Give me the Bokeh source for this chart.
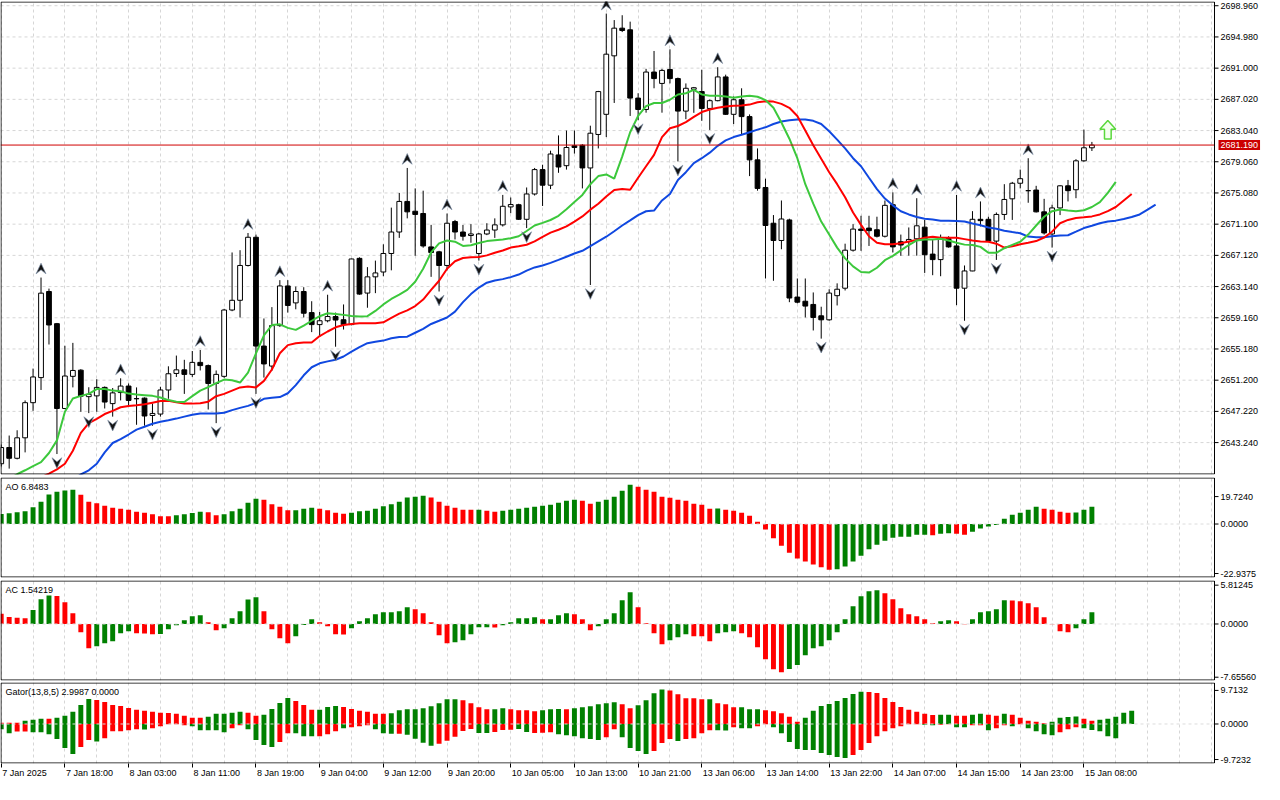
import numpy as np
from bokeh.plotting import figure
from bokeh.layouts import column
from bokeh.models import (Range1d, FixedTicker, Label, Grid, LinearAxis,
                          CustomJSTickFormatter)
from bokeh.embed import file_html
from bokeh.resources import INLINE

# ---------------- data (XAUUSD H1) ----------------
opens = [2640.54, 2642.61, 2641.24, 2643.85, 2648.33, 2651.53, 2662.51, 2658.41, 2647.59, 2651.69,
         2652.48, 2649.1, 2649.2, 2650.28, 2648.21, 2649.62, 2650.45, 2648.83, 2648.91, 2646.7,
         2646.88, 2649.95, 2652.06, 2652.52, 2651.94, 2653.47, 2653.06, 2650.78, 2651.69, 2660.15,
         2661.39, 2665.83, 2669.43, 2655.55, 2653.0, 2658.16, 2663.22, 2661.06, 2662.51, 2659.82,
         2658.29, 2658.78, 2659.32, 2658.91, 2658.29, 2666.74, 2662.31, 2664.38, 2665.0, 2667.36,
         2670.1, 2674.0, 2672.75, 2672.46, 2668.2, 2667.57, 2665.83, 2671.43, 2670.1, 2669.65,
         2667.36, 2669.85, 2670.35, 2671.01, 2673.3, 2673.58, 2671.72, 2674.95, 2678.06, 2676.07,
         2679.93, 2678.56, 2681.1, 2681.17, 2678.27, 2682.54, 2685.11, 2692.57, 2696.1, 2695.89,
         2687.18, 2685.73, 2690.5, 2689.05, 2690.83, 2689.67, 2685.52, 2688.3, 2688.01, 2685.86,
         2686.85, 2689.88, 2685.11, 2686.97, 2684.82, 2679.3, 2675.78, 2671.22, 2669.02, 2671.64,
         2661.8, 2661.27, 2660.86, 2659.41, 2658.9, 2661.98, 2662.93, 2667.78, 2670.47, 2670.6,
         2670.39, 2669.56, 2673.58, 2668.86, 2668.86, 2669.23, 2670.72, 2667.28, 2666.58, 2669.27,
         2668.32, 2662.93, 2665.13, 2671.72, 2671.72, 2668.94, 2672.34, 2674.33, 2676.32, 2675.37,
         2675.45, 2672.67, 2669.85, 2673.17, 2675.99, 2675.49, 2679.18, 2680.84]
highs = [2643.0, 2644.14, 2644.81, 2648.62, 2652.68, 2664.29, 2662.88, 2658.5, 2655.59, 2655.96,
         2652.6, 2650.3, 2651.32, 2650.4, 2650.2, 2651.44, 2650.78, 2650.28, 2649.0, 2648.21,
         2650.36, 2652.97, 2654.34, 2653.8, 2654.92, 2655.05, 2653.2, 2652.44, 2660.3, 2667.49,
         2667.78, 2669.97, 2669.77, 2659.07, 2660.52, 2663.96, 2663.96, 2663.14, 2663.06, 2661.27,
         2659.9, 2662.1, 2659.82, 2660.86, 2666.7, 2666.87, 2665.62, 2666.45, 2668.53, 2673.21,
         2675.08, 2678.27, 2675.66, 2675.37, 2671.01, 2667.7, 2672.46, 2671.64, 2671.0, 2671.1,
         2669.98, 2671.22, 2671.84, 2674.83, 2674.5, 2673.7, 2675.78, 2678.27, 2678.68, 2680.47,
         2682.42, 2683.04, 2683.04, 2681.3, 2683.66, 2688.1, 2697.96, 2697.13, 2697.75, 2696.93,
         2687.8, 2690.91, 2693.19, 2690.91, 2693.4, 2689.8, 2689.05, 2688.6, 2690.79, 2687.0,
         2691.12, 2690.17, 2687.39, 2688.43, 2685.1, 2680.76, 2676.9, 2672.26, 2674.12, 2671.8,
         2664.17, 2664.17, 2662.39, 2660.57, 2662.8, 2663.55, 2668.61, 2671.1, 2672.17, 2672.17,
         2672.05, 2674.12, 2675.16, 2669.77, 2670.68, 2674.41, 2671.64, 2669.15, 2669.77, 2669.56,
         2674.83, 2665.83, 2672.76, 2674.0, 2672.05, 2672.59, 2676.2, 2676.49, 2678.06, 2679.51,
         2675.99, 2674.33, 2673.58, 2676.07, 2676.74, 2679.39, 2683.16, 2681.59]
lows = [2640.2, 2639.92, 2641.1, 2641.99, 2647.29, 2649.95, 2655.75, 2641.78, 2647.5, 2650.28,
        2647.17, 2647.0, 2647.17, 2647.59, 2646.55, 2648.62, 2647.99, 2645.51, 2645.39, 2645.39,
        2646.55, 2648.83, 2651.61, 2649.45, 2651.61, 2652.44, 2647.46, 2645.72, 2651.5, 2660.0,
        2659.19, 2665.7, 2649.45, 2651.53, 2652.4, 2658.0, 2659.82, 2660.24, 2659.2, 2657.33,
        2656.71, 2658.58, 2655.47, 2657.66, 2658.2, 2662.1, 2660.44, 2662.3, 2664.46, 2665.21,
        2669.35, 2671.84, 2667.07, 2668.1, 2664.38, 2662.51, 2665.21, 2669.15, 2669.0, 2668.73,
        2666.45, 2669.7, 2669.35, 2670.8, 2672.5, 2671.64, 2670.6, 2674.75, 2673.42, 2675.57,
        2677.65, 2678.06, 2680.1, 2675.66, 2663.34, 2680.76, 2682.21, 2686.56, 2695.6, 2684.9,
        2684.36, 2685.32, 2688.43, 2685.32, 2689.05, 2679.1, 2684.49, 2685.3, 2684.28, 2683.12,
        2686.77, 2685.03, 2683.87, 2682.54, 2677.23, 2675.37, 2664.17, 2663.88, 2667.9, 2661.15,
        2661.0, 2659.2, 2657.54, 2656.5, 2658.78, 2660.73, 2662.64, 2667.6, 2667.7, 2668.32,
        2669.4, 2669.4, 2667.49, 2667.07, 2667.08, 2667.08, 2664.88, 2664.59, 2664.46, 2668.1,
        2660.77, 2658.78, 2665.1, 2670.81, 2668.82, 2666.54, 2671.64, 2671.64, 2675.66, 2673.83,
        2672.59, 2669.77, 2668.11, 2672.26, 2674.0, 2674.41, 2679.06, 2680.43]
closes = [2642.61, 2641.24, 2643.85, 2648.33, 2651.61, 2662.30, 2658.24, 2647.59, 2651.73, 2652.44,
          2649.16, 2649.4, 2650.28, 2648.41, 2649.58, 2650.45, 2648.62, 2648.85, 2646.63, 2646.96,
          2649.95, 2652.02, 2652.52, 2651.94, 2653.47, 2653.06, 2650.78, 2651.94, 2660.15, 2661.39,
          2665.83, 2669.43, 2655.55, 2653.27, 2658.16, 2663.22, 2660.73, 2662.51, 2659.74, 2658.29,
          2658.78, 2659.32, 2658.87, 2658.29, 2666.66, 2662.18, 2664.38, 2664.88, 2667.36, 2670.1,
          2674.0, 2672.67, 2672.34, 2668.32, 2667.49, 2665.83, 2671.22, 2670.1, 2669.56, 2669.85,
          2669.85, 2670.35, 2671.01, 2673.38, 2673.6, 2671.72, 2674.95, 2678.06, 2676.07, 2680.05,
          2678.39, 2680.88, 2680.88, 2678.27, 2682.7, 2688.01, 2692.78, 2696.1, 2695.8, 2687.18,
          2685.73, 2690.5, 2689.67, 2690.71, 2689.67, 2685.52, 2688.43, 2688.5, 2685.86, 2686.85,
          2689.88, 2685.11, 2686.97, 2684.82, 2679.3, 2675.66, 2670.93, 2669.02, 2671.76, 2661.68,
          2661.15, 2660.65, 2659.2, 2658.9, 2662.31, 2662.8, 2667.78, 2670.47, 2670.3, 2670.27,
          2669.56, 2673.5, 2668.2, 2668.44, 2669.15, 2670.89, 2667.2, 2666.58, 2669.27, 2668.2,
          2662.93, 2665.13, 2671.72, 2671.55, 2668.94, 2672.34, 2674.25, 2676.32, 2676.9, 2675.37,
          2672.67, 2669.98, 2673.17, 2675.99, 2675.37, 2679.18, 2680.84, 2681.19]

# Alligator lines (as drawn, i.e. already shifted forward)
jaw = [2633.5, 2634.0, 2634.5, 2635.0, 2635.5, 2636.0, 2636.6, 2637.2, 2637.8, 2638.5,
       2639.17, 2639.71, 2640.54, 2641.99, 2643.19, 2643.69, 2644.27, 2644.89, 2645.26, 2645.64,
       2645.89, 2646.09, 2646.3, 2646.55, 2646.8, 2646.96, 2646.96, 2646.96, 2647.05, 2647.38,
       2647.67, 2647.92, 2648.29, 2648.83, 2648.95, 2649.04, 2649.53, 2650.57, 2651.82, 2652.85,
       2653.35, 2653.6, 2653.81, 2654.22, 2654.84, 2655.42, 2655.92, 2656.09, 2656.25, 2656.54,
       2656.71, 2656.75, 2657.25, 2657.75, 2658.37, 2658.78, 2659.2, 2659.94, 2661.15, 2662.18,
       2663.01, 2663.63, 2663.92, 2664.09, 2664.34, 2664.67, 2665.17, 2665.58, 2665.83, 2666.16,
       2666.54, 2666.95, 2667.36, 2667.7, 2668.3, 2668.9, 2669.5, 2670.2, 2670.93, 2671.59,
       2672.26, 2672.75, 2672.84, 2674.12, 2674.95, 2676.73, 2677.73, 2678.89, 2679.51, 2680.22,
       2681.09, 2681.79, 2682.21, 2682.5, 2682.83, 2683.16, 2683.45, 2683.87, 2684.2, 2684.36,
       2684.45, 2684.45, 2684.28, 2683.87, 2682.95, 2681.88, 2680.76, 2679.51, 2678.48, 2677.02,
       2675.57, 2674.37, 2673.5, 2672.75, 2672.34, 2672.01, 2671.8, 2671.68, 2671.55, 2671.55,
       2671.51, 2671.43, 2671.18, 2670.97, 2670.68, 2670.52, 2670.27, 2670.1, 2669.94, 2669.52,
       2669.44, 2669.44, 2669.56, 2669.65, 2669.69, 2670.14, 2670.6, 2670.89, 2671.22, 2671.43,
       2671.55, 2671.76, 2672.01, 2672.34, 2672.96, 2673.59]
teeth = [2636.5, 2637.0, 2637.5, 2638.0, 2638.4, 2638.8, 2639.29, 2639.83, 2640.54, 2642.2,
         2644.48, 2645.72, 2646.26, 2646.88, 2647.29, 2647.75, 2647.92, 2648.0, 2648.12, 2648.33,
         2648.54, 2648.58, 2648.37, 2648.21, 2648.21, 2648.25, 2648.46, 2649.16, 2649.45, 2649.87,
         2650.28, 2650.4, 2650.28, 2651.11, 2652.56, 2654.63, 2655.67, 2655.9, 2656.0, 2656.0,
         2656.83, 2657.41, 2657.95, 2658.24, 2658.37, 2658.45, 2658.45, 2658.45, 2658.58, 2659.16,
         2659.69, 2660.11, 2660.65, 2661.48, 2662.72, 2663.88, 2665.42, 2666.37, 2666.78, 2666.87,
         2666.9, 2667.12, 2667.45, 2667.74, 2668.11, 2668.28, 2668.48, 2668.9, 2669.48, 2670.02,
         2670.39, 2670.81, 2671.43, 2672.09, 2672.95, 2673.71, 2674.64, 2675.47, 2675.57, 2675.49,
         2677.02, 2678.48, 2679.93, 2682.21, 2683.33, 2683.62, 2684.11, 2684.78, 2685.4, 2685.73,
         2685.94, 2686.1, 2686.19, 2686.23, 2686.35, 2686.64, 2686.77, 2686.73, 2686.44, 2685.94,
         2684.9, 2683.04, 2681.17, 2679.43, 2677.73, 2676.2, 2674.54, 2672.59, 2671.01, 2669.56,
         2668.73, 2668.53, 2668.55, 2668.67, 2668.9, 2669.07, 2669.36, 2669.48, 2669.36, 2669.36,
         2669.36, 2669.19, 2669.02, 2668.9, 2668.86, 2668.61, 2668.11, 2668.28, 2668.53, 2668.73,
         2668.94, 2669.4, 2670.14, 2671.22, 2671.64, 2671.89, 2671.97, 2672.09, 2672.34, 2672.76,
         2673.29, 2674.12, 2674.95]
lips = [2638.0, 2638.6, 2639.2, 2639.71, 2640.25, 2640.74, 2641.91, 2643.52, 2647.17, 2648.87,
        2649.2, 2649.45, 2650.07, 2650.07, 2649.87, 2649.78, 2649.49, 2649.37, 2649.29, 2649.2,
        2648.99, 2648.66, 2648.46, 2648.42, 2649.16, 2649.87, 2650.32, 2650.82, 2651.28, 2651.19,
        2650.9, 2652.15, 2654.63, 2656.91, 2658.24, 2658.32, 2657.87, 2657.62, 2658.16, 2658.78,
        2659.36, 2659.74, 2659.65, 2659.53, 2659.4, 2659.32, 2659.36, 2660.03, 2660.86, 2661.56,
        2662.1, 2662.72, 2663.76, 2665.42, 2667.49, 2668.65, 2669.02, 2668.86, 2668.32, 2668.4,
        2668.69, 2668.94, 2669.06, 2669.15, 2669.31, 2669.56, 2670.23, 2670.93, 2671.26, 2671.63,
        2672.17, 2673.0, 2673.92, 2674.83, 2676.2, 2677.23, 2677.44, 2676.9, 2679.72, 2682.83,
        2684.9, 2686.15, 2686.56, 2686.56, 2686.97, 2687.64, 2687.8, 2688.22, 2687.64, 2687.47,
        2687.47, 2687.39, 2687.22, 2687.39, 2687.47, 2687.35, 2686.93, 2685.94, 2684.07, 2682.0,
        2679.51, 2676.2, 2673.71, 2671.43, 2669.77, 2668.11, 2666.74, 2665.71, 2665.0, 2664.92,
        2665.54, 2666.5, 2667.05, 2667.75, 2668.44, 2669.02, 2669.15, 2669.15, 2669.23, 2669.02,
        2668.73, 2668.49, 2668.45, 2668.2, 2667.45, 2667.45, 2668.03, 2668.45, 2668.86, 2669.77,
        2670.93, 2672.05, 2672.76, 2672.96, 2672.84, 2672.76, 2672.88, 2673.29, 2673.92, 2675.08,
        2676.49]

fractal_up_bars = [5, 15, 25, 31, 35, 41, 51, 56, 63, 76, 84, 90, 112, 115, 120, 123, 129]
fractal_down_bars = [7, 11, 14, 19, 27, 32, 42, 55, 60, 66, 74, 80, 85, 89, 103, 121, 125, 132]

signal_bar = 139
signal_low = 2681.96
signal_high = 2684.32

last_price = 2681.19
last_price_text = "2681.190"

price_ticks = [2643.240, 2647.220, 2651.200, 2655.180, 2659.160, 2663.140, 2667.120, 2671.100,
               2675.080, 2679.060, 2683.040, 2687.020, 2691.000, 2694.980, 2698.960]
price_tick_labels = ["2643.240", "2647.220", "2651.200", "2655.180", "2659.160", "2663.140",
                     "2667.120", "2671.100", "2675.080", "2679.060", "2683.040", "2687.020",
                     "2691.000", "2694.980", "2698.960"]

ao = [5.0, 5.4, 5.9, 6.4, 8.4, 11.2, 14.9, 16.2, 16.8, 17.3,
      14.7, 11.2, 10.4, 9.2, 8.2, 7.7, 7.2, 6.2, 5.7, 4.9,
      3.9, 3.85, 4.4, 4.9, 5.5, 6.2, 5.9, 4.4, 4.9, 6.4,
      7.7, 10.7, 12.7, 12.2, 9.9, 8.7, 6.9, 6.95, 7.7, 8.2,
      7.7, 6.9, 5.7, 5.2, 5.7, 6.4, 6.7, 7.7, 8.9, 9.9,
      11.2, 13.4, 13.7, 14.2, 13.4, 11.2, 9.2, 8.2, 7.2, 7.15,
      7.2, 6.7, 6.2, 6.7, 7.2, 7.7, 8.2, 8.7, 9.2, 9.7,
      10.7, 11.7, 12.2, 11.7, 10.2, 11.2, 12.2, 13.7, 16.7, 19.72,
      18.8, 17.3, 16.2, 13.7, 13.2, 12.2, 11.7, 10.2, 9.7, 7.7,
      7.75, 7.2, 6.7, 5.7, 4.2, 1.2, -2.7, -7.2, -10.9, -14.4,
      -17.3, -18.9, -20.3, -21.8, -22.94, -22.8, -21.4, -18.9, -15.9, -12.7,
      -10.4, -8.4, -6.9, -6.4, -6.35, -5.4, -5.35, -5.7, -4.9, -4.7,
      -4.9, -5.4, -3.9, -2.2, -1.3, -0.5, 2.7, 4.7, 5.7, 7.2,
      8.7, 7.7, 7.2, 6.2, 5.7, 5.75, 7.2, 8.7]
ao_before = 4.8
ac = [1.64, 1.11, 1.0, 0.9, 2.22, 3.91, 4.5, 4.45, 3.43, 1.69,
      -1.32, -3.86, -3.54, -3.06, -2.75, -1.48, -1.16, -1.48, -1.5, -1.64,
      -1.6, -0.85, -0.2, 0.58, 1.21, 1.37, 0.26, -1.0, -0.69, 0.9,
      2.0, 3.9, 4.23, 2.0, -0.85, -2.27, -3.06, -1.95, -0.16, 0.74,
      0.26, -0.37, -1.64, -1.66, -0.69, 0.42, 0.9, 1.53, 1.85, 1.87,
      2.0, 2.64, 2.32, 1.69, 0.26, -1.8, -3.06, -2.9, -2.59, -1.64,
      -0.53, -0.5, -0.55, -0.21, 0.26, 0.9, 0.92, 1.06, 0.74, 0.76,
      1.37, 1.69, 1.53, 0.74, -1.0, -0.37, 0.74, 1.69, 3.75, 5.02,
      2.64, 0.1, -1.48, -3.22, -2.59, -2.11, -1.64, -1.95, -1.96, -2.75,
      -1.48, -1.32, -1.16, -1.48, -2.11, -3.7, -5.6, -7.18, -7.6556, -7.13,
      -6.5, -4.96, -3.86, -3.54, -2.59, -1.32, 0.74, 2.8, 4.38, 5.18,
      5.34, 4.86, 3.91, 2.48, 1.53, 1.21, 0.74, 0.1, 0.42, 0.58,
      0.42, -0.05, 0.74, 1.85, 2.0, 2.32, 3.75, 3.74, 3.59, 3.28,
      2.64, 1.06, -0.05, -1.16, -1.32, -0.69, 0.74, 1.85]
ac_before = 2.0

gator_upper = [0.3, 0.28, 0.27, 0.76, 0.98, 1.21, 1.2, 1.44, 1.89, 2.8,
               4.39, 5.76, 5.53, 5.08, 4.39, 4.17, 3.71, 3.26, 3.03, 2.8,
               2.58, 2.55, 2.35, 1.89, 1.44, 1.42, 1.67, 2.35, 2.37, 2.58,
               2.8, 2.57, 1.89, 2.12, 3.48, 4.85, 5.98, 5.3, 4.39, 3.26,
               3.28, 3.94, 4.17, 3.94, 3.48, 3.03, 2.8, 2.35, 2.33, 2.5,
               3.18, 3.41, 3.42, 3.64, 4.09, 4.77, 5.68, 5.7, 5.45, 4.77,
               3.86, 3.41, 3.42, 3.64, 3.41, 3.18, 3.16, 2.95, 3.18, 3.41,
               3.43, 3.41, 3.64, 3.86, 4.09, 4.55, 4.77, 5.0, 4.55, 3.64,
               4.32, 5.45, 7.05, 7.95, 7.73, 6.82, 5.91, 5.9, 5.68, 5.7,
               4.77, 4.55, 3.86, 3.88, 3.41, 3.41, 3.18, 2.95, 2.5, 1.67,
               0.53, 1.44, 3.03, 4.17, 4.62, 5.3, 5.98, 6.89, 7.4, 7.35,
               7.12, 5.98, 5.08, 3.94, 3.26, 2.8, 2.35, 2.08, 2.1, 2.12,
               1.9, 1.89, 2.12, 2.35, 2.12, 1.89, 2.35, 2.12, 1.44, 0.76,
               0.53, 0.15, 0.53, 1.44, 1.6, 1.7, 1.21, 0.76, 0.98, 1.21,
               1.67, 2.58, 3.03]
gator_upper_dir = ("rrrgggrggggg" + "rrrrrrrrrrrrrr" + "gggggrrggggrrrggg" + "rrrrrr" +
                   "ggggggggg" + "rrrrggrrrrgggr" + "ggggggrrggggrrrrrgrrrggg" +
                   "rrrrrggggggggrrrrrrrrr" + "ggrrggrrgrrrrrggggrrggggg")
gator_lower = [1.21, 2.12, 1.74, 1.72, 1.89, 1.9, 2.35, 3.48, 5.53, 6.89,
               5.3, 3.71, 4.02, 3.26, 1.67, 1.65, 1.44, 1.21, 1.25, 0.98,
               0.53, 0.08, 0.03, 0.3, 0.53, 1.44, 1.45, 1.46, 1.89, 0.98,
               0.3, 1.21, 3.71, 4.85, 5.3, 4.17, 2.12, 2.14, 2.8, 2.82,
               2.8, 2.35, 1.67, 0.98, 0.76, 0.53, 0.3, 1.21, 2.12, 2.27,
               2.25, 2.5, 3.41, 4.32, 5.0, 4.55, 3.86, 2.95, 1.59, 1.14,
               2.05, 2.06, 1.82, 1.36, 1.35, 1.14, 1.82, 2.05, 2.04, 1.89,
               2.35, 2.58, 2.8, 3.26, 3.48, 3.71, 3.03, 1.21, 3.03, 5.53,
               6.21, 6.89, 6.21, 4.39, 3.48, 3.94, 3.47, 3.26, 2.12, 1.44,
               1.45, 1.5, 0.76, 0.98, 1.0, 0.53, 0.05, 0.76, 2.12, 4.17,
               5.76, 5.98, 6.0, 6.67, 7.12, 7.58, 7.8, 7.12, 5.98, 4.39,
               2.8, 1.67, 0.98, 0.53, 0.08, 0.07, 0.15, 0.3, 0.15, 0.08,
               0.75, 0.76, 0.31, 0.3, 1.44, 0.98, 0.3, 0.53, 0.05, 0.98,
               1.67, 2.35, 2.58, 1.89, 1.21, 0.76, 0.98, 1.36, 1.67, 2.8,
               3.26]
gator_lower_dir = ("ggrrggggggrrg" + "rrrrrgrrrrr" + "gggggrrggggrrgggrrrg" + "rrrgggrggggrrrrr" +
                   "ggrrrggrrr" + "ggggggrrggggrrrg" + "rrrrggrggrr" + "gggggggggg" +
                   "rrrrrrrrr" + "ggrrggrrgrrgr" + "ggggrrrggggg")

time_tick_bars = [0, 8, 16, 24, 32, 40, 48, 56, 64, 72, 80, 88, 96, 104, 112, 120, 128, 136]
time_tick_labels = ["7 Jan 2025", "7 Jan 18:00", "8 Jan 03:00", "8 Jan 11:00", "8 Jan 19:00",
                    "9 Jan 04:00", "9 Jan 12:00", "9 Jan 20:00", "10 Jan 05:00", "10 Jan 13:00",
                    "10 Jan 21:00", "13 Jan 06:00", "13 Jan 14:00", "13 Jan 22:00", "14 Jan 07:00",
                    "14 Jan 15:00", "14 Jan 23:00", "15 Jan 08:00"]

ao_title = "AO 6.8483"
ac_title = "AC 1.54219"
gator_title = "Gator(13,8,5) 2.9987 0.0000"
ao_scale_labels = ["19.7240", "0.0000", "-22.9375"]
ac_scale_labels = ["5.81245", "0.0000", "-7.65560"]
gator_scale_labels = ["9.7132", "0.0000", "-9.7232"]

# ---------------- styling / geometry ----------------
FONT = "Liberation Sans"
FS = "9px"
W = 1264                       # every panel canvas is this wide; the price scale lives inside it
PLOT_W = 1214                  # width of the plotting area (left of the price scale)
X0, X1 = -0.09, 152.4          # bar span of the plotting area
PXB = PLOT_W / (X1 - X0)       # pixels per bar
XE = X0 + W / PXB              # data x at the right edge of the canvas
TICK_LEN = 4 / PXB
GRID_C = "#d6d6d6"
GRID_D = "3 3"
GREEN = "#008000"
RED = "#ff0000"

xr = Range1d(X0, XE)


def make_panel(h, y0, y1, top, bottom, xaxis=False):
    p = figure(width=W, height=h, x_range=xr, y_range=Range1d(y0, y1), output_backend="svg",
               toolbar_location=None, x_axis_location=("below" if xaxis else None),
               y_axis_location=None, min_border_left=0, min_border_right=0,
               min_border_top=top, min_border_bottom=bottom)
    p.grid.visible = False
    p.outline_line_color = None
    p.background_fill_color = "white"
    p.border_fill_color = "white"
    p.add_layout(Grid(dimension=0, ticker=FixedTicker(ticks=list(range(0, 153, 4))),
                      grid_line_color=GRID_C, grid_line_dash=GRID_D))
    return p


def frame_box(p, y0, y1, frame_h):
    dx = 0.5 / PXB
    dy = 0.5 * (y1 - y0) / frame_h
    p.segment(x0=[X0 + dx, X0 + dx, X0 + dx, X1],
              y0=[y0 + dy, y1 - dy, y0 + dy, y0 + dy],
              x1=[X1, X1, X0 + dx, X1],
              y1=[y0 + dy, y1 - dy, y1 - dy, y1 - dy],
              line_color="black", line_width=1)


def hlines(p, levels, color=GRID_C, dash=GRID_D):
    n = len(levels)
    p.segment(x0=[X0] * n, y0=levels, x1=[X1] * n, y1=levels,
              line_color=color, line_dash=dash, line_width=1)


def right_scale(p, ticks, labels):
    n = len(ticks)
    p.segment(x0=[X1] * n, y0=ticks, x1=[X1 + TICK_LEN] * n, y1=ticks,
              line_color="black", line_width=1)
    for t, s in zip(ticks, labels):
        p.add_layout(Label(x=X1, y=t, x_offset=6, text=s, text_font=FONT, text_font_size=FS,
                           text_color="black", text_baseline="middle", text_align="left"))


def title(p, text, ytop):
    p.add_layout(Label(x=X0, y=ytop, x_offset=5, y_offset=-4,
                       text=text, text_font=FONT, text_font_size=FS, text_color="black",
                       text_baseline="top", text_align="left"))


def dir_colors(vals, before):
    prev = [before] + list(vals[:-1])
    return [GREEN if v > q else RED for v, q in zip(vals, prev)]


# ---------------- main price panel ----------------
MAIN_H = 475
MAIN_FH = MAIN_H - 2
Y0, Y1 = 2639.17, 2699.5
p1 = make_panel(MAIN_H, Y0, Y1, 1, 1)
hlines(p1, price_ticks)

o = np.array(opens); h = np.array(highs); l = np.array(lows); c = np.array(closes)
idx = np.arange(len(o))
bull = c >= o
p1.segment(x0=idx, y0=l, x1=idx, y1=h, line_color="black", line_width=1)
p1.vbar(x=idx[bull], width=0.6, bottom=o[bull], top=c[bull],
        fill_color="white", line_color="black", line_width=1)
p1.vbar(x=idx[~bull], width=0.6, bottom=c[~bull], top=o[~bull],
        fill_color="black", line_color="black", line_width=1)

p1.line(list(range(len(jaw))), jaw, line_color="#1048e0", line_width=2)
p1.line(list(range(len(teeth))), teeth, line_color="#ff0000", line_width=2)
p1.line(list(range(len(lips))), lips, line_color="#3cc83c", line_width=2)

FW, FH, OFF = 0.62, 0.68, 1.15
up_xs = [[b, b + FW, b, b - FW] for b in fractal_up_bars]
up_ys = [[highs[b] + OFF + FH, highs[b] + OFF - FH, highs[b] + OFF - 0.25 * FH, highs[b] + OFF - FH]
         for b in fractal_up_bars]
dn_xs = [[b, b + FW, b, b - FW] for b in fractal_down_bars]
dn_ys = [[lows[b] - OFF - FH, lows[b] - OFF + FH, lows[b] - OFF + 0.25 * FH, lows[b] - OFF + FH]
         for b in fractal_down_bars]
p1.patches(up_xs, up_ys, fill_color="#141414", line_color="#8090a8", line_width=0.7)
p1.patches(dn_xs, dn_ys, fill_color="#141414", line_color="#8090a8", line_width=0.7)

# green "buy" arrow
sb, s0, s1 = signal_bar, signal_low, signal_high
neck = s1 - 0.47 * (s1 - s0)
p1.patch([sb, sb + 1.0, sb + 0.42, sb + 0.42, sb - 0.42, sb - 0.42, sb - 1.0],
         [s1, neck, neck, s0, s0, neck, neck],
         fill_color="#f4fff0", line_color="#5ad83c", line_width=1.5)

# current price line
p1.segment(x0=[X0], y0=[last_price], x1=[X1], y1=[last_price], line_color="#d00000", line_width=1)
frame_box(p1, Y0, Y1, MAIN_FH)
right_scale(p1, price_ticks, price_tick_labels)
p1.add_layout(Label(x=X1, y=last_price, x_offset=4, text=last_price_text, text_font=FONT,
                    text_font_size=FS, text_color="white", text_baseline="middle",
                    text_align="left", background_fill_color="#cc0000", padding=2))

# ---------------- AO ----------------
AO0, AO1 = -26.9, 23.4
p2 = make_panel(103, AO0, AO1, 2, 1)
p2.vbar(x=list(range(len(ao))), width=0.62, top=ao, bottom=0,
        fill_color=dir_colors(ao, ao_before), line_color=None)
hlines(p2, [0], color="#dcdcdc")
frame_box(p2, AO0, AO1, 100)
right_scale(p2, [13.8, 0, -24.9], ao_scale_labels)
title(p2, ao_title, AO1)

# ---------------- AC ----------------
AC0, AC1 = -8.95, 6.89
p3 = make_panel(103, AC0, AC1, 2, 1)
p3.vbar(x=list(range(len(ac))), width=0.62, top=ac, bottom=0,
        fill_color=dir_colors(ac, ac_before), line_color=None)
hlines(p3, [0], color="#dcdcdc")
frame_box(p3, AC0, AC1, 100)
right_scale(p3, [6.15, 0, -8.43], ac_scale_labels)
title(p3, ac_title, AC1)

# ---------------- Gator ----------------
G0, G1 = -9.09, 9.55
p4 = make_panel(103, G0, G1, 1, 21, xaxis=True)
gu_col = [GREEN if d == "g" else RED for d in gator_upper_dir[:len(gator_upper)]]
gu_col += [GREEN] * (len(gator_upper) - len(gu_col))
gl_col = [GREEN if d == "g" else RED for d in gator_lower_dir[:len(gator_lower)]]
gl_col += [GREEN] * (len(gator_lower) - len(gl_col))
p4.vbar(x=list(range(len(gator_upper))), width=0.62, top=gator_upper, bottom=0,
        fill_color=gu_col, line_color=None)
p4.vbar(x=list(range(len(gator_lower))), width=0.62, top=0, bottom=[-v for v in gator_lower],
        fill_color=gl_col, line_color=None)
hlines(p4, [0], color="#dcdcdc")
frame_box(p4, G0, G1, 81)
right_scale(p4, [7.73, 0, -8.18], gator_scale_labels)
title(p4, gator_title, G1)

# tick marks of the time scale
xa = p4.xaxis[0]
xa.ticker = FixedTicker(ticks=time_tick_bars)
xa.formatter = CustomJSTickFormatter(code="return ''")
xa.major_label_text_font_size = "1px"
xa.major_label_standoff = 0
xa.major_tick_out = 4
xa.major_tick_in = 0
xa.minor_tick_line_color = None
xa.axis_line_color = None
xa.major_tick_line_color = "black"

# time labels: left-aligned at their tick (centre shifted by half the text width)
CW = {":": 2.5, " ": 2.5, "J": 4.5, "a": 5.0, "n": 5.0}


def text_w(s):
    return sum(CW.get(ch, 5.0) for ch in s)


label_pos = [round(b + (text_w(s) / 2 + 1) / PXB, 3) for b, s in zip(time_tick_bars, time_tick_labels)]
xa2 = LinearAxis(ticker=FixedTicker(ticks=label_pos),
                 major_label_overrides={pos: s for pos, s in zip(label_pos, time_tick_labels)},
                 major_tick_line_color=None, minor_tick_line_color=None, axis_line_color=None,
                 major_tick_out=0, major_tick_in=0, major_label_standoff=0,
                 major_label_text_font=FONT, major_label_text_font_size=FS,
                 major_label_text_color="black")
p4.add_layout(xa2, "below")

layout = column(p1, p2, p3, p4, spacing=0)
open("out.html", "w").write(file_html(layout, INLINE))
